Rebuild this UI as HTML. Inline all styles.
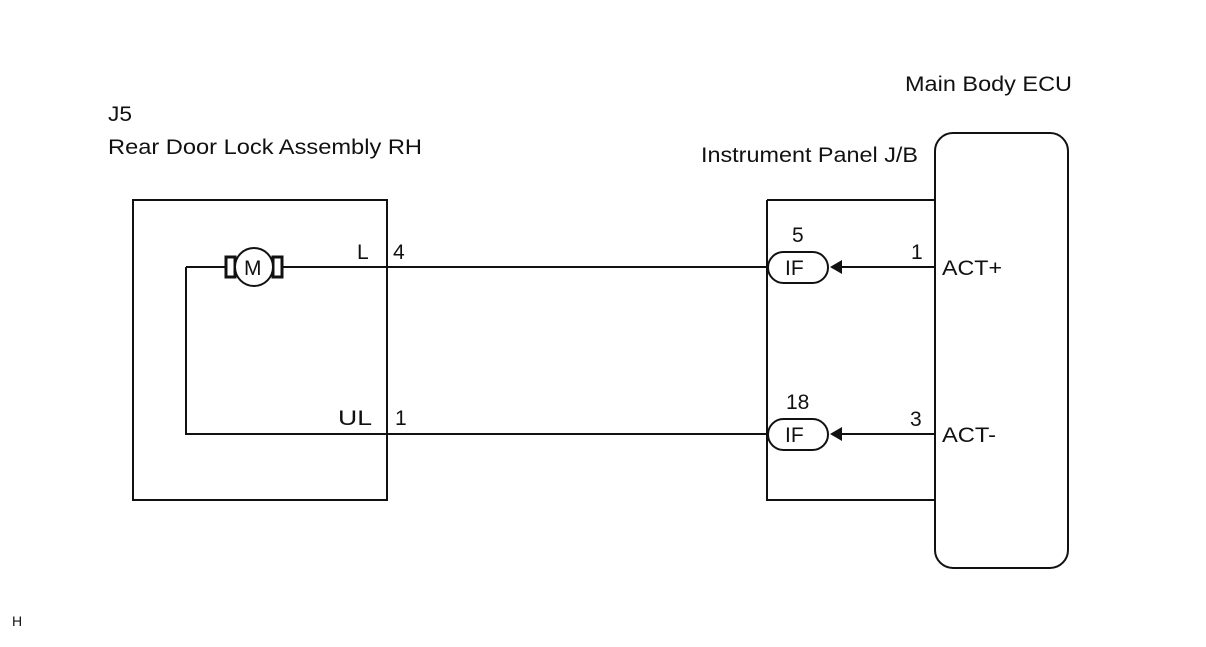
<!DOCTYPE html>
<html><head><style>
body{margin:0;background:#fff}
svg text{font-family:"Liberation Sans",sans-serif;fill:#111}
</style></head><body>
<svg width="1206" height="642" viewBox="0 0 1206 642" xmlns="http://www.w3.org/2000/svg">
<g fill="none" stroke="#111" stroke-width="2">
<rect x="133" y="200" width="254" height="300"/>
<polyline points="767,200 935,200"/>
<polyline points="767,200 767,500 935,500"/>
<rect x="935" y="133" width="133" height="435" rx="18"/>
<line x1="225" y1="267" x2="186" y2="267"/>
<polyline points="186,267 186,434 767,434"/>
<line x1="283" y1="267" x2="767" y2="267"/>
<line x1="842" y1="267" x2="935" y2="267"/>
<line x1="842" y1="434" x2="935" y2="434"/>
<rect x="226" y="257" width="9" height="20" stroke-width="3"/>
<rect x="273" y="257" width="9" height="20" stroke-width="3"/>
<circle cx="254" cy="267" r="19" fill="#fff"/>
<rect x="768" y="252" width="60" height="31" rx="15.5" fill="#fff"/>
<rect x="768" y="419" width="60" height="31" rx="15.5" fill="#fff"/>
</g>
<polygon points="830,267 842,260 842,274" fill="#111"/>
<polygon points="830,434 842,427 842,441" fill="#111"/>
<g font-size="21">
<text x="905" y="91" textLength="167" lengthAdjust="spacingAndGlyphs">Main Body ECU</text>
<text x="108" y="121" textLength="24" lengthAdjust="spacingAndGlyphs">J5</text>
<text x="108" y="154" textLength="314" lengthAdjust="spacingAndGlyphs">Rear Door Lock Assembly RH</text>
<text x="701" y="162" textLength="217" lengthAdjust="spacingAndGlyphs">Instrument Panel J/B</text>
<text x="357" y="259">L</text>
<text x="393" y="259">4</text>
<text x="338" y="425" textLength="34" lengthAdjust="spacingAndGlyphs">UL</text>
<text x="395" y="425">1</text>
<text x="792" y="242">5</text>
<text x="786" y="409">18</text>
<text x="911" y="259">1</text>
<text x="910" y="426">3</text>
<text x="942" y="275" textLength="60" lengthAdjust="spacingAndGlyphs">ACT+</text>
<text x="942" y="442" textLength="54" lengthAdjust="spacingAndGlyphs">ACT-</text>
<text x="244" y="275">M</text>
<text x="785" y="275">IF</text>
<text x="785" y="442">IF</text>
</g>
<text x="12" y="626" font-size="14">H</text>
</svg>
</body></html>
